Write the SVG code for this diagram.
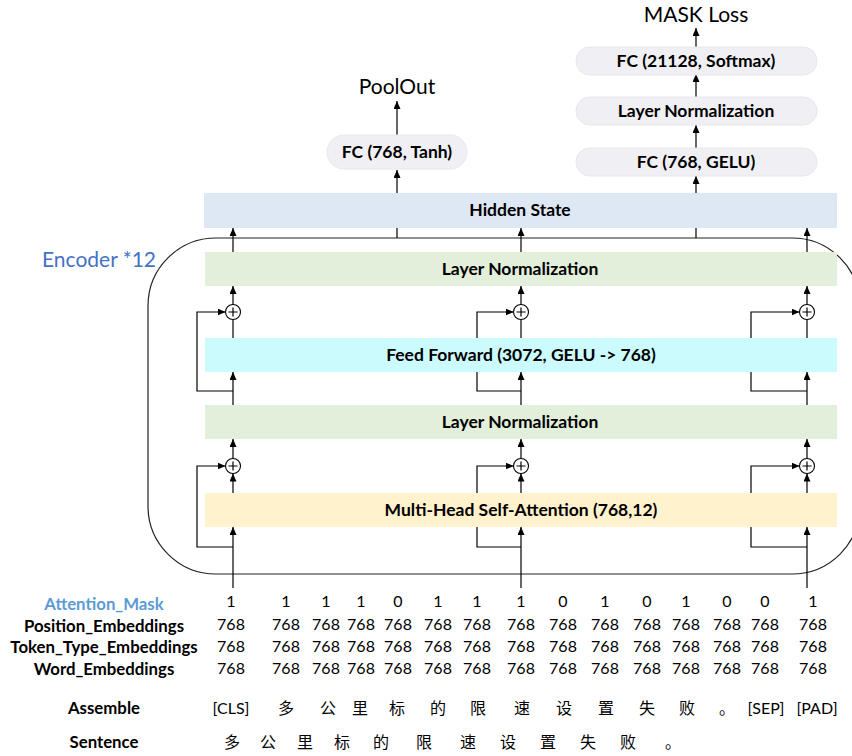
<svg xmlns="http://www.w3.org/2000/svg" width="852" height="756" viewBox="0 0 852 756">
<style>
.t{font-family:Lato,"Noto Sans","Noto Sans CJK SC",sans-serif;fill:#000}
.b{font-weight:bold;font-size:17.5px;text-anchor:middle}
.lb{font-weight:bold;font-size:16.8px;text-anchor:middle}
.n{font-size:16px;text-anchor:middle}
.big{font-size:21px;text-anchor:middle}
.cj{font-family:"Noto Sans CJK SC",sans-serif;font-size:16px;text-anchor:middle;fill:#000}
.ln{stroke:#000;stroke-width:1.2;fill:none}
.lna{stroke:#000;stroke-width:1.2;fill:none;marker-end:url(#ah)}
.head{fill:#f0f0f4;stroke:#e6e6ec;stroke-width:1}
.plus{fill:#fff;stroke:#000;stroke-width:1.1}
</style>
<defs>
<marker id="ah" markerUnits="userSpaceOnUse" markerWidth="8" markerHeight="7" refX="8" refY="3.5" orient="auto">
<path d="M0,0 L8,3.5 L0,7 z" fill="#000"/>
</marker>
</defs>
<rect width="852" height="756" fill="#fff"/>

<g id="encoder-frame">
<rect x="148" y="238" width="712" height="336" rx="68" ry="68" fill="none" stroke="#222" stroke-width="1.2"/>
<text class="t" x="42" y="267" font-size="21" style="fill:#4472c4">Encoder *12</text>
</g>

<g id="connectors">
<line class="lna" x1="397" y1="238" x2="397" y2="170"/>
<line class="lna" x1="397" y1="135" x2="397" y2="101"/>
<line class="lna" x1="696" y1="238" x2="696" y2="176"/>
<line class="lna" x1="696" y1="148" x2="696" y2="125"/>
<line class="lna" x1="696" y1="97" x2="696" y2="74"/>
<line class="lna" x1="696" y1="47" x2="696" y2="28"/>
<line class="lna" x1="233" y1="588" x2="233" y2="527"/>
<polyline class="lna" points="233,547 197,547 197,466 225.5,466"/>
<line class="lna" x1="233" y1="493" x2="233" y2="473.5"/>
<line class="lna" x1="233" y1="458.5" x2="233" y2="439"/>
<line class="lna" x1="233" y1="405" x2="233" y2="372"/>
<polyline class="lna" points="233,391 197,391 197,312 225.5,312"/>
<line class="ln" x1="233" y1="338" x2="233" y2="319.5"/>
<line class="lna" x1="233" y1="304.5" x2="233" y2="286"/>
<line class="lna" x1="233" y1="252" x2="233" y2="228"/>
<line class="lna" x1="521" y1="588" x2="521" y2="527"/>
<polyline class="lna" points="521,547 477,547 477,466 513.5,466"/>
<line class="lna" x1="521" y1="493" x2="521" y2="473.5"/>
<line class="lna" x1="521" y1="458.5" x2="521" y2="439"/>
<line class="lna" x1="521" y1="405" x2="521" y2="372"/>
<polyline class="lna" points="521,391 477,391 477,312 513.5,312"/>
<line class="ln" x1="521" y1="338" x2="521" y2="319.5"/>
<line class="lna" x1="521" y1="304.5" x2="521" y2="286"/>
<line class="lna" x1="521" y1="252" x2="521" y2="228"/>
<line class="lna" x1="807" y1="588" x2="807" y2="527"/>
<polyline class="lna" points="807,547 751,547 751,466 799.5,466"/>
<line class="lna" x1="807" y1="493" x2="807" y2="473.5"/>
<line class="lna" x1="807" y1="458.5" x2="807" y2="439"/>
<line class="lna" x1="807" y1="405" x2="807" y2="372"/>
<polyline class="lna" points="807,391 751,391 751,312 799.5,312"/>
<line class="ln" x1="807" y1="338" x2="807" y2="319.5"/>
<line class="lna" x1="807" y1="304.5" x2="807" y2="286"/>
<line class="lna" x1="807" y1="252" x2="807" y2="228"/>
</g>

<g id="adders">
<g id="add-1a"><circle class="plus" cx="233" cy="312" r="7.5"/><path class="ln" d="M228.5,312H237.5M233,307.5V316.5"/></g>
<g id="add-1b"><circle class="plus" cx="233" cy="466" r="7.5"/><path class="ln" d="M228.5,466H237.5M233,461.5V470.5"/></g>
<g id="add-2a"><circle class="plus" cx="521" cy="312" r="7.5"/><path class="ln" d="M516.5,312H525.5M521,307.5V316.5"/></g>
<g id="add-2b"><circle class="plus" cx="521" cy="466" r="7.5"/><path class="ln" d="M516.5,466H525.5M521,461.5V470.5"/></g>
<g id="add-3a"><circle class="plus" cx="807" cy="312" r="7.5"/><path class="ln" d="M802.5,312H811.5M807,307.5V316.5"/></g>
<g id="add-3b"><circle class="plus" cx="807" cy="466" r="7.5"/><path class="ln" d="M802.5,466H811.5M807,461.5V470.5"/></g>
</g>

<g id="hidden-state">
<rect x="204" y="193" width="633" height="35" fill="#dee8f4"/>
<text class="t b" x="520" y="216">Hidden State</text>
</g>
<g id="layer-norm-1">
<rect x="205" y="252" width="632" height="34" fill="#e2efda"/>
<text class="t b" x="520" y="275">Layer Normalization</text>
</g>
<g id="feed-forward">
<rect x="205" y="338" width="632" height="34" fill="#ccfbfe"/>
<text class="t b" x="521" y="361">Feed Forward (3072, GELU -&gt; 768)</text>
</g>
<g id="layer-norm-2">
<rect x="205" y="405" width="632" height="34" fill="#e2efda"/>
<text class="t b" x="520" y="428">Layer Normalization</text>
</g>
<g id="mhsa">
<rect x="205" y="493" width="632" height="34" fill="#fff2cc"/>
<text class="t b" x="521" y="516">Multi-Head Self-Attention (768,12)</text>
</g>

<g id="fc-tanh">
<rect class="head" x="327" y="135" width="140" height="34" rx="17"/>
<text class="t b" x="397" y="158">FC (768, Tanh)</text>
</g>
<g id="pool-out"><text class="t big" x="397" y="94">PoolOut</text></g>
<g id="fc-gelu">
<rect class="head" x="576" y="148" width="241" height="28" rx="14"/>
<text class="t b" x="696" y="168">FC (768, GELU)</text>
</g>
<g id="head-layer-norm">
<rect class="head" x="576" y="97" width="241" height="28" rx="14"/>
<text class="t b" x="696" y="117">Layer Normalization</text>
</g>
<g id="fc-softmax">
<rect class="head" x="576" y="47" width="241" height="28" rx="14"/>
<text class="t b" x="696" y="67">FC (21128, Softmax)</text>
</g>
<g id="mask-loss"><text class="t big" x="696" y="22">MASK Loss</text></g>

<g id="table-labels">
<text class="t lb" x="104" y="610" style="fill:#5b9bd5">Attention_Mask</text>
<text class="t lb" x="104" y="632">Position_Embeddings</text>
<text class="t lb" x="104" y="653">Token_Type_Embeddings</text>
<text class="t lb" x="104" y="675">Word_Embeddings</text>
<text class="t lb" x="104" y="714">Assemble</text>
<text class="t lb" x="104" y="748">Sentence</text>
</g>

<g id="attention-mask" class="t n">
<text x="231" y="607">1</text><text x="286" y="607">1</text><text x="326" y="607">1</text><text x="361" y="607">1</text><text x="398" y="607">0</text>
<text x="438" y="607">1</text><text x="477" y="607">1</text><text x="521" y="607">1</text><text x="563" y="607">0</text><text x="605" y="607">1</text>
<text x="647" y="607">0</text><text x="686" y="607">1</text><text x="727" y="607">0</text><text x="765" y="607">0</text><text x="813" y="607">1</text>
</g>
<g id="position-embeddings" class="t n">
<text x="231" y="630">768</text><text x="286" y="630">768</text><text x="326" y="630">768</text><text x="361" y="630">768</text><text x="398" y="630">768</text>
<text x="438" y="630">768</text><text x="477" y="630">768</text><text x="521" y="630">768</text><text x="563" y="630">768</text><text x="605" y="630">768</text>
<text x="647" y="630">768</text><text x="686" y="630">768</text><text x="727" y="630">768</text><text x="765" y="630">768</text><text x="813" y="630">768</text>
</g>
<g id="token-type-embeddings" class="t n">
<text x="231" y="652">768</text><text x="286" y="652">768</text><text x="326" y="652">768</text><text x="361" y="652">768</text><text x="398" y="652">768</text>
<text x="438" y="652">768</text><text x="477" y="652">768</text><text x="521" y="652">768</text><text x="563" y="652">768</text><text x="605" y="652">768</text>
<text x="647" y="652">768</text><text x="686" y="652">768</text><text x="727" y="652">768</text><text x="765" y="652">768</text><text x="813" y="652">768</text>
</g>
<g id="word-embeddings" class="t n">
<text x="231" y="674">768</text><text x="286" y="674">768</text><text x="326" y="674">768</text><text x="361" y="674">768</text><text x="398" y="674">768</text>
<text x="438" y="674">768</text><text x="477" y="674">768</text><text x="521" y="674">768</text><text x="563" y="674">768</text><text x="605" y="674">768</text>
<text x="647" y="674">768</text><text x="686" y="674">768</text><text x="727" y="674">768</text><text x="765" y="674">768</text><text x="813" y="674">768</text>
</g>
<g id="assemble">
<text class="t n" x="231" y="714">[CLS]</text>
<text class="cj" x="286" y="714">多</text><text class="cj" x="328" y="714">公</text><text class="cj" x="360" y="714">里</text><text class="cj" x="397" y="714">标</text>
<text class="cj" x="438" y="714">的</text><text class="cj" x="478" y="714">限</text><text class="cj" x="522" y="714">速</text><text class="cj" x="564" y="714">设</text>
<text class="cj" x="606" y="714">置</text><text class="cj" x="647" y="714">失</text><text class="cj" x="687" y="714">败</text><text class="cj" x="727" y="714">。</text>
<text class="t n" x="766" y="714">[SEP]</text><text class="t n" x="817" y="714">[PAD]</text>
</g>
<g id="sentence">
<text class="cj" x="232" y="748">多</text><text class="cj" x="268" y="748">公</text><text class="cj" x="305" y="748">里</text><text class="cj" x="342" y="748">标</text>
<text class="cj" x="381" y="748">的</text><text class="cj" x="424" y="748">限</text><text class="cj" x="468" y="748">速</text><text class="cj" x="508" y="748">设</text>
<text class="cj" x="548" y="748">置</text><text class="cj" x="588" y="748">失</text><text class="cj" x="628" y="748">败</text><text class="cj" x="673" y="748">。</text>
</g>
</svg>
